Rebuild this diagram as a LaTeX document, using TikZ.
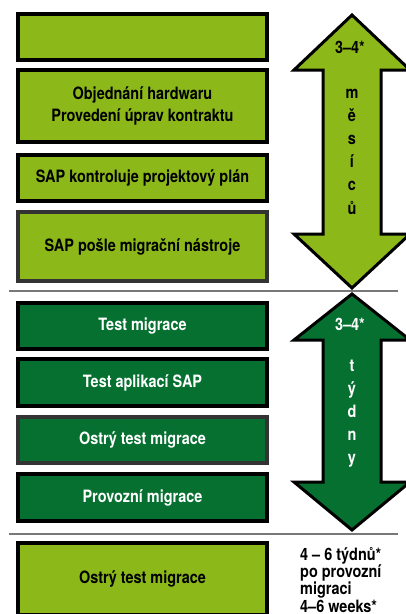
\documentclass[tikz,border=0pt]{standalone}
\usepackage{fontspec}
\setmainfont{TeX Gyre Heros}[FakeStretch=0.85]
\definecolor{lgreen}{RGB}{140,184,26}
\definecolor{dgreen}{RGB}{5,112,48}
\definecolor{sepgray}{RGB}{120,120,120}
\tikzset{
  box/.style={line width=3.5pt, minimum width=249pt, align=center, inner sep=0pt,
    font=\bfseries\fontsize{17}{22}\selectfont},
  lbox/.style={box, draw=black, fill=lgreen, text=black},
  dbox/.style={box, draw=black, fill=dgreen, text=white},
  gbox/.style={draw=black!80},
  arrowshape/.style={draw=black, line width=3pt, line join=miter},
  lbl/.style={font=\bfseries\fontsize{17}{15.5}\selectfont, inner sep=0pt, anchor=base},
  sep/.style={draw=sepgray, line width=1.2pt}
}
\begin{document}
\begin{tikzpicture}[x=1pt,y=-1pt]
\useasboundingbox (0,0) rectangle (406,614);
\clip (0,0) rectangle (406,614);
\fill[white] (0,0) rectangle (406,614);

% light boxes
\node[lbox, minimum height=46pt] (b1) at (142.5,37) {};
\node[lbox, minimum height=72pt] (b2) at (142.5,106) {Objednání hardwaru\\Provedení úprav kontraktu};
\node[lbox, minimum height=46pt] (b3) at (142.5,178) {SAP kontroluje projektový plán};
\node[lbox, gbox, minimum height=69pt] (b4) at (142.5,246.5) {SAP pošle migrační nástroje};

% separators
\coordinate (s1a) at (9,291); \coordinate (s1b) at (398,291);
\coordinate (s2a) at (9,534); \coordinate (s2b) at (398,534);
\draw[sep] (s1a) -- (s1b);
\draw[sep] (s2a) -- (s2b);

% dark boxes
\node[dbox, minimum height=46pt] (b5) at (142.5,326) {Test migrace};
\node[dbox, minimum height=47pt] (b6) at (142.5,382.5) {Test aplikací SAP};
\node[dbox, gbox, minimum height=46pt] (b7) at (142.5,440) {Ostrý test migrace};
\node[dbox, minimum height=47pt] (b8) at (142.5,497.5) {Provozní migrace};

% bottom box
\node[lbox, minimum height=72pt] (b9) at (142.5,579) {Ostrý test migrace};

% arrow 1
\draw[arrowshape, fill=lgreen] (352,15) -- (410,70) -- (381,70) -- (381,234) -- (410,234)
  -- (352,288) -- (294,234) -- (323,234) -- (323,70) -- (294,70) -- cycle;
\node[lbl, text=black] (a1t) at (350,53) {3–4*};
\foreach \l [count=\i] in {m,ě,s,í,c,ů}
  \node[lbl, text=black] (a1l\i) at (352,{98+23.2*(\i-1)}) {\l};

% arrow 2
\draw[arrowshape, fill=dgreen] (352,294) -- (410,340) -- (381,340) -- (381,482) -- (410,482)
  -- (352,530) -- (294,482) -- (323,482) -- (323,340) -- (294,340) -- cycle;
\node[lbl, text=white] (a2t) at (350,330) {3–4*};
\foreach \l [count=\i] in {t,ý,d,n,y}
  \node[lbl, text=white] (a2l\i) at (352,{371+23*(\i-1)}) {\l};

% side note
\node[lbl, anchor=base west, align=left] (note) at (300,612)
  {4 – 6 týdnů*\\po provozní\\migraci\\4–6 weeks*};
\end{tikzpicture}
\end{document}
